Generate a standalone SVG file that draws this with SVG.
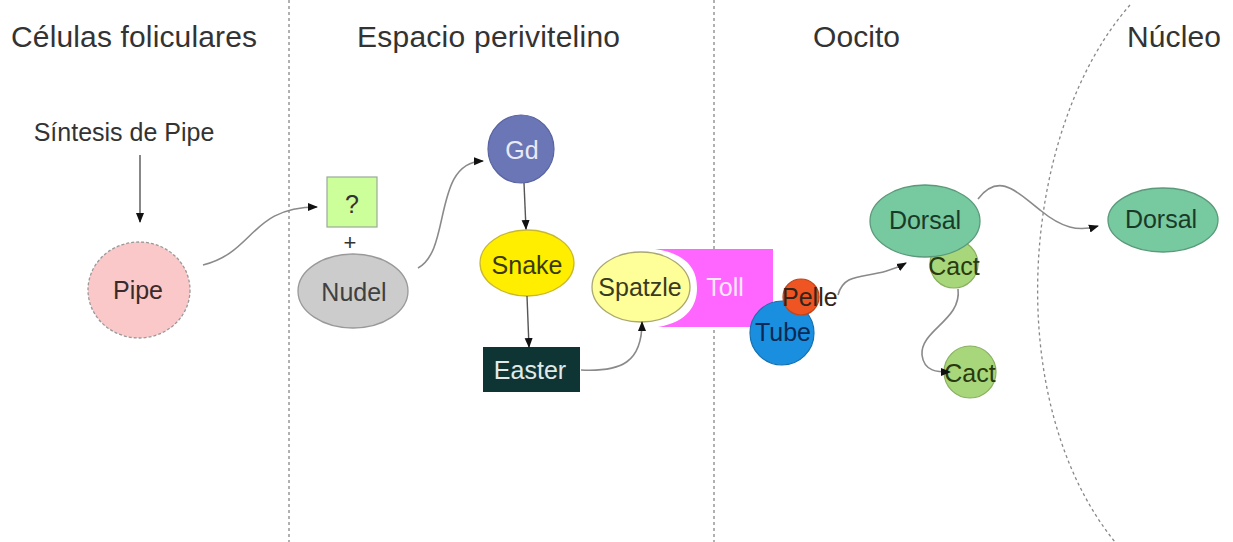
<svg xmlns="http://www.w3.org/2000/svg" width="1233" height="542" viewBox="0 0 1233 542">
<style>
text{font-family:"Liberation Sans",Arial,sans-serif;}
.hdr{font-size:30px;fill:#333;}
.lbl{font-size:25px;text-anchor:middle;}
.div{stroke:#888;stroke-width:1.3;stroke-dasharray:3 3;fill:none;}
.con{stroke:#8a8a8a;stroke-width:1.6;fill:none;marker-end:url(#ah);}
.str{stroke:#555;stroke-width:1.4;fill:none;marker-end:url(#ah);}
</style>
<defs>
<marker id="ah" markerWidth="10" markerHeight="10" viewBox="0 0 10 10" refX="9" refY="5" orient="auto" markerUnits="userSpaceOnUse">
<path d="M0,1 L10,5 L0,9 Z" fill="#111"/>
</marker>
</defs>
<rect width="1233" height="542" fill="#fff"/>
<g id="dividers">
<line class="div" x1="289" y1="0" x2="289" y2="542"/>
<line class="div" x1="714" y1="0" x2="714" y2="542"/>
<path class="div" d="M1130,5 C1020,130 1000,400 1115,542"/>
</g>
<g id="headers">
<text class="hdr" x="11" y="47" textLength="246">Células foliculares</text>
<text class="hdr" x="357" y="47" textLength="263">Espacio perivitelino</text>
<text class="hdr" x="813" y="47" textLength="87">Oocito</text>
<text class="hdr" x="1127" y="47" textLength="94">Núcleo</text>
</g>
<g id="sintesis">
<text x="124" y="141" style="font-size:25px;fill:#333;text-anchor:middle">Síntesis de Pipe</text>
</g>
<g id="pipe">
<ellipse cx="139" cy="290" rx="51" ry="48" fill="#fac8c8" stroke="#999" stroke-width="1.3" stroke-dasharray="3 2"/>
<text class="lbl" x="138" y="299" fill="#3a2a2a">Pipe</text>
</g>
<g id="unknown">
<rect x="327" y="177" width="50" height="50" fill="#ccff99" stroke="#9a9" stroke-width="1.2"/>
<text class="lbl" x="352" y="213" fill="#333">?</text>
<text class="lbl" x="350" y="250" fill="#333" style="font-size:22px">+</text>
</g>
<g id="nudel">
<ellipse cx="353" cy="291" rx="55" ry="37" fill="#cccccc" stroke="#999" stroke-width="1.3"/>
<text class="lbl" x="354" y="301" fill="#404040">Nudel</text>
</g>
<g id="gd">
<ellipse cx="521" cy="149" rx="33" ry="34" fill="#6a76b6" stroke="#5a64a0" stroke-width="1.2"/>
<text class="lbl" x="522" y="159" fill="#e8eaf4">Gd</text>
</g>
<g id="snake">
<ellipse cx="527" cy="263" rx="47" ry="33" fill="#ffee00" stroke="#c8b830" stroke-width="1.3"/>
<text class="lbl" x="527" y="274" fill="#3a3a00">Snake</text>
</g>
<g id="easter">
<rect x="483" y="347" width="97" height="45" fill="#0e3434"/>
<text class="lbl" x="530" y="379" fill="#e0eaea">Easter</text>
</g>
<g id="toll">
<path d="M655,249 H773 V327 H658 C688,322 697,305 697,288 C697,270 688,254 655,249 Z" fill="#ff66ff"/>
<text class="lbl" x="725" y="296" fill="#fde8fd">Toll</text>
</g>
<g id="spatzle">
<ellipse cx="641" cy="287" rx="49" ry="35" fill="#ffff99" stroke="#aaa870" stroke-width="1.3"/>
<text class="lbl" x="640" y="296" fill="#3a3a20">Spatzle</text>
</g>
<g id="tube">
<circle cx="782" cy="333" r="32" fill="#1a8fe0" stroke="#1670b0" stroke-width="1.2"/>
<text class="lbl" x="783" y="341" fill="#0a2a55">Tube</text>
</g>
<g id="pelle">
<circle cx="801" cy="297" r="18" fill="#ee5522" stroke="#c04418" stroke-width="1.2"/>
<text x="782" y="306" style="font-size:25px" fill="#33241a">Pelle</text>
</g>
<g id="cact-upper">
<circle cx="954" cy="264" r="24" fill="#a8d67a" stroke="#88b060" stroke-width="1.2"/>
</g>
<g id="dorsal-oocyte">
<ellipse cx="925" cy="221" rx="55" ry="36" fill="#77c9a0" stroke="#5a9a7a" stroke-width="1.3"/>
<text class="lbl" x="925" y="229" fill="#1a3a28">Dorsal</text>
<text class="lbl" x="954" y="275" fill="#2a3a10">Cact</text>
</g>
<g id="cact-lower">
<circle cx="970" cy="372" r="26" fill="#a8d67a" stroke="#88b060" stroke-width="1.2"/>
<text class="lbl" x="970" y="382" fill="#2a3a10">Cact</text>
</g>
<g id="dorsal-nucleus">
<ellipse cx="1163" cy="220" rx="55" ry="32" fill="#77c9a0" stroke="#5a9a7a" stroke-width="1.3"/>
<text class="lbl" x="1161" y="228" fill="#1a3a28">Dorsal</text>
</g>
<g id="connectors">
<line class="str" x1="140" y1="155" x2="140" y2="222"/>
<path class="con" d="M203,265 C255,252 250,207 317,207"/>
<path class="con" d="M418,268 C452,250 432,162 483,161"/>
<line class="str" x1="524" y1="183" x2="526" y2="229"/>
<line class="str" x1="527" y1="296" x2="529" y2="347"/>
<path class="con" d="M581,370 C622,372 642,362 642,322"/>
<path class="con" d="M838,295 C845,268 872,282 906,263"/>
<path class="con" d="M958,289 C962,320 920,330 922,355 C924,372 938,372 950,372"/>
<path class="con" d="M978,199 C1000,170 1020,195 1040,210 C1062,228 1078,232 1098,226"/>
</g>
</svg>
